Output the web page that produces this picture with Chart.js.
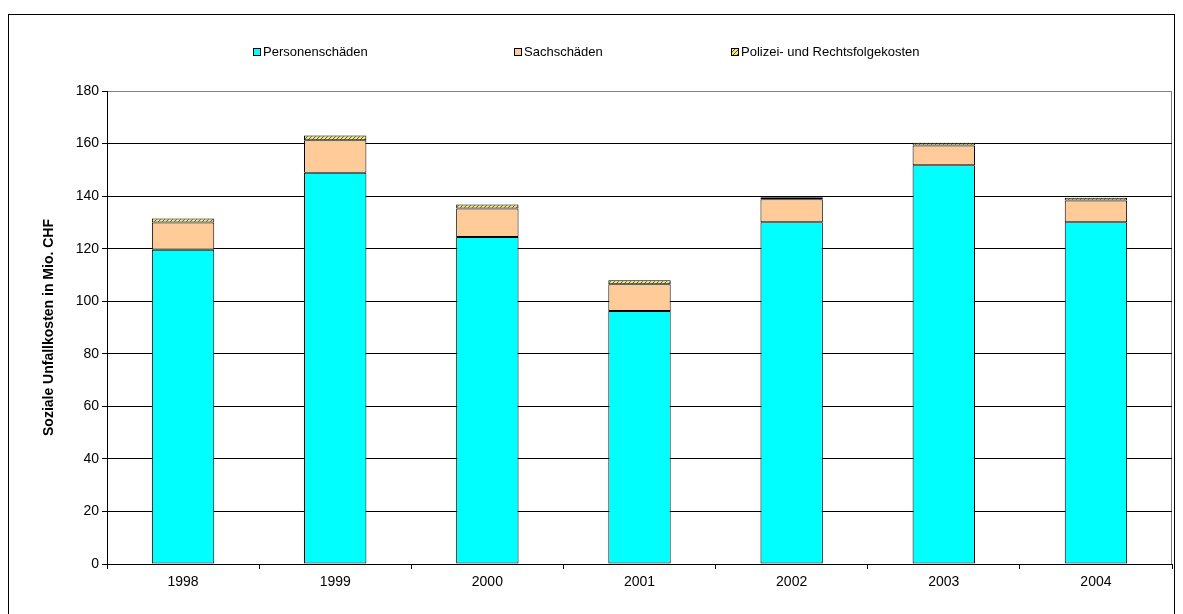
<!DOCTYPE html>
<html>
<head>
<meta charset="utf-8">
<title>Soziale Unfallkosten</title>
<script src="https://cdn.jsdelivr.net/npm/chart.js@4/dist/chart.umd.min.js"></script>
<style>
  html, body { margin: 0; padding: 0; background: #fff; }
  #wrap { position: relative; width: 1183px; height: 614px; }
</style>
</head>
<body>
<div id="wrap"><canvas id="chart" width="1183" height="614"></canvas></div>
<script>
// Data (Mio. CHF)
const years = ["1998", "1999", "2000", "2001", "2002", "2003", "2004"];
const personenschaeden = [119.6, 148.9, 124.4, 96.3, 130.1, 151.7, 130.1];
const sachschaeden = [10.4, 12.4, 10.9, 10.2, 8.7, 7.6, 8.2];
const polizeiKosten = [1.5, 1.8, 1.5, 1.5, 0.8, 1.0, 1.1];
const yTicks = [0, 20, 40, 60, 80, 100, 120, 140, 160, 180];

const FONT = "'Liberation Sans', Arial, sans-serif";

// small diagonal hatch tile for the police/legal costs segment
function makeHatch() {
  const c = document.createElement("canvas");
  c.width = 4; c.height = 4;
  const g = c.getContext("2d");
  g.fillStyle = "#f2e77a";
  g.fillRect(0, 0, 4, 4);
  g.fillStyle = "#5a5a3a";
  g.fillRect(0, 3, 1, 1);
  g.fillRect(1, 2, 1, 1);
  g.fillRect(2, 1, 1, 1);
  g.fillRect(3, 0, 1, 1);
  return g.createPattern(c, "repeat");
}
const hatch = makeHatch();

// frame, plot border and the legend row
const decorPlugin = {
  id: "decor",
  beforeDraw(chart) {
    const { ctx, chartArea: a } = chart;
    ctx.save();
    ctx.strokeStyle = "#000";
    ctx.lineWidth = 1;
    ctx.strokeRect(8.5, 14.5, 1166, 640);
    ctx.strokeStyle = "#808080";
    ctx.strokeRect(a.left + 0.5, a.top + 0.5, a.right - a.left - 1, a.bottom - a.top);
    ctx.restore();
  },
  afterDraw(chart) {
    const { ctx } = chart;
    const xs = [253, 514, 731];
    const y = 52;
    ctx.save();
    ctx.font = "13px " + FONT;
    ctx.textBaseline = "middle";
    chart.data.datasets.forEach((ds, i) => {
      ctx.fillStyle = ds.backgroundColor;
      ctx.fillRect(xs[i], y - 4, 8, 8);
      ctx.strokeStyle = "#000";
      ctx.lineWidth = 1;
      ctx.strokeRect(xs[i] + 0.5, y - 3.5, 7, 7);
      ctx.fillStyle = "#000";
      ctx.fillText(ds.label, xs[i] + 10, y);
    });
    ctx.restore();
  }
};

const barStyle = {
  borderColor: "#000",
  borderWidth: 1,
  borderSkipped: false,
  barPercentage: 0.41,
  categoryPercentage: 1.0
};

new Chart(document.getElementById("chart").getContext("2d"), {
  type: "bar",
  data: {
    labels: years,
    datasets: [
      { label: "Personenschäden", data: personenschaeden, backgroundColor: "#00ffff", ...barStyle },
      { label: "Sachschäden", data: sachschaeden, backgroundColor: "#ffcc99", ...barStyle },
      { label: "Polizei- und Rechtsfolgekosten", data: polizeiKosten, backgroundColor: hatch, ...barStyle }
    ]
  },
  options: {
    responsive: false,
    animation: false,
    layout: { padding: { top: 91, left: 20, right: 11, bottom: 10 } },
    plugins: {
      legend: { display: false },
      tooltip: { enabled: false }
    },
    scales: {
      x: {
        stacked: true,
        offset: true,
        grid: {
          offset: true,
          drawOnChartArea: false,
          color: "#000",
          tickLength: 5
        },
        border: { color: "#000", width: 1 },
        ticks: { color: "#000", font: { family: FONT, size: 14 }, padding: 5 },
        afterFit(scale) { scale.height = 40; }
      },
      y: {
        stacked: true,
        min: 0,
        max: 180,
        afterBuildTicks(scale) { scale.ticks = yTicks.map(v => ({ value: v })); },
        grid: {
          color: (c) => (c.tick && c.tick.value === 180 ? "#808080" : "#000"),
          tickColor: "#000",
          tickLength: 5,
          lineWidth: 1
        },
        border: { color: "#000", width: 1 },
        ticks: { color: "#000", font: { family: FONT, size: 14 }, padding: 3 },
        title: {
          display: true,
          text: "Soziale Unfallkosten in Mio. CHF",
          color: "#000",
          font: { family: FONT, size: 14, weight: "bold" },
          padding: { top: 21, bottom: 0 }
        },
        afterFit(scale) { scale.width = 87; }
      }
    }
  },
  plugins: [decorPlugin]
});
</script>
</body>
</html>
